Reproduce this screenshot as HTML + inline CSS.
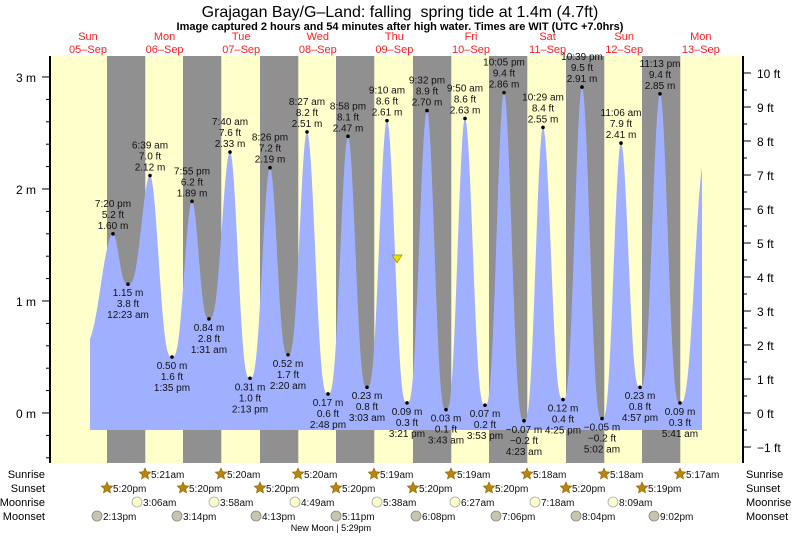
<!DOCTYPE html>
<html><head><meta charset="utf-8"><style>
html,body{margin:0;padding:0;background:#fff}
svg{display:block;font-family:"Liberation Sans",sans-serif}
</style></head><body>
<svg id="s" width="793" height="538" viewBox="0 0 793 538" xmlns="http://www.w3.org/2000/svg">
<rect x="50" y="56" width="693" height="407" fill="#ffffcc"/>
<g id="bands" fill="#909090"></g>
<path id="tide" fill="#a0b0ff" d=""/>
<line x1="50" y1="56" x2="50" y2="463" stroke="#000" stroke-width="2"/>
<line x1="743" y1="56" x2="743" y2="463" stroke="#000" stroke-width="2"/>
<g id="ticks" stroke="#000" stroke-width="1"></g>
<g id="txt" font-size="10" fill="#111" text-anchor="middle"></g>
<text x="400" y="17" font-size="16" text-anchor="middle" fill="#000">Grajagan Bay/G–Land: falling&#160; spring tide at 1.4m (4.7ft)</text>
<text x="400" y="30" font-size="11" font-weight="bold" text-anchor="middle" fill="#000">Image captured 2 hours and 54 minutes after high water. Times are WIT (UTC +7.0hrs)</text>
<polygon points="392,255 402,255 397,263" fill="#eedd00" stroke="#998800" stroke-width="0.7"/>
<text x="331" y="531" font-size="9" text-anchor="middle" fill="#000">New Moon | 5:29pm</text>
</svg>
<script>
var NS="http://www.w3.org/2000/svg";
function el(p,t,a,txt){var e=document.createElementNS(NS,t);for(var k in a)e.setAttribute(k,a[k]);if(txt!==undefined)e.textContent=txt;p.appendChild(e);return e;}
var s=document.getElementById('s'),bands=document.getElementById('bands'),ticks=document.getElementById('ticks'),T=document.getElementById('txt');
var nb=[107,183,260,336,413,489,566,642];
nb.forEach(function(x){el(bands,'rect',{x:x,y:56,width:38.3,height:407});});
function Y(m){return 413-m*112;}
var E=[[113,1.60,'5.2','7:20 pm',1],[128,1.15,'3.8','12:23 am',0],[150,2.12,'7.0','6:39 am',1],[172,0.50,'1.6','1:35 pm',0],
[192,1.89,'6.2','7:55 pm',1],[209,0.84,'2.8','1:31 am',0],[230,2.33,'7.6','7:40 am',1],[250,0.31,'1.0','2:13 pm',0],
[270,2.19,'7.2','8:26 pm',1],[288,0.52,'1.7','2:20 am',0],[307,2.51,'8.2','8:27 am',1],[328,0.17,'0.6','2:48 pm',0],
[348,2.47,'8.1','8:58 pm',1],[367,0.23,'0.8','3:03 am',0],[387,2.61,'8.6','9:10 am',1],[407,0.09,'0.3','3:21 pm',0],
[427,2.70,'8.9','9:32 pm',1],[446,0.03,'0.1','3:43 am',0],[465,2.63,'8.6','9:50 am',1],[485,0.07,'0.2','3:53 pm',0],
[504,2.86,'9.4','10:05 pm',1],[524,-0.07,'−0.2','4:23 am',0],[543,2.55,'8.4','10:29 am',1],[563,0.12,'0.4','4:25 pm',0],
[582,2.91,'9.5','10:39 pm',1],[602,-0.05,'−0.2','5:02 am',0],[621,2.41,'7.9','11:06 am',1],[640,0.23,'0.8','4:57 pm',0],
[660,2.85,'9.4','11:13 pm',1],[680,0.09,'0.3','5:41 am',0]];
var knots=[[82,0.6]].concat(E.map(function(e){return[e[0],e[1]];})).concat([[704,2.25]]);
var d='M90,430 ';
for(var x=90;x<=702;x+=0.5){
 var i=0;while(i<knots.length-2&&knots[i+1][0]<x)i++;
 var a=knots[i],b=knots[i+1];var t=(x-a[0])/(b[0]-a[0]);
 var sv=(1-Math.cos(Math.PI*t))/2;var m;
 if(b[1]>a[1]){m=a[1]+(b[1]-a[1])*Math.pow(sv,1.5);}
 else{m=b[1]+(a[1]-b[1])*Math.pow(1-sv,1.5);}
 d+='L'+x+','+Y(m).toFixed(1)+' ';
}
d+='L702,430 Z';
document.getElementById('tide').setAttribute('d',d);
E.forEach(function(e){
 var x=e[0],y=Y(e[1]);
 el(T,'circle',{cx:x,cy:y,r:1.8,fill:'#000'});
 var m=e[1].toFixed(2).replace('-','−')+' m',f=e[2]+' ft';
 if(e[4]){el(T,'text',{x:x,y:y-5},m);el(T,'text',{x:x,y:y-16},f);el(T,'text',{x:x,y:y-27},e[3]);}
 else{el(T,'text',{x:x,y:y+12},m);el(T,'text',{x:x,y:y+23},f);el(T,'text',{x:x,y:y+34},e[3]);}
});
for(var v=-0.4;v<=3.2;v+=0.2){var yy=Y(v);if(yy<57||yy>462)continue;var maj=Math.abs(v-Math.round(v))<0.01;
 el(ticks,'line',{x1:maj?42:46,y1:yy,x2:50,y2:yy});
 if(maj)el(T,'text',{x:36,y:yy+5,'font-size':12,'text-anchor':'end',fill:'#000'},Math.round(v)+' m');}
for(var f=-1.5;f<=10.5;f+=0.5){var yy=413-f*34;if(yy<57||yy>462)continue;var maj=Math.abs(f-Math.round(f))<0.01;
 el(ticks,'line',{x1:743,y1:yy,x2:maj?751:747,y2:yy});
 if(maj)el(T,'text',{x:757,y:yy+5,'font-size':12,'text-anchor':'start',fill:'#000'},(Math.round(f)<0?'−'+(-Math.round(f)):Math.round(f))+' ft');}
var days=[['Sun','05–Sep'],['Mon','06–Sep'],['Tue','07–Sep'],['Wed','08–Sep'],['Thu','09–Sep'],['Fri','10–Sep'],['Sat','11–Sep'],['Sun','12–Sep'],['Mon','13–Sep']];
days.forEach(function(d,i){var x=88+i*76.6;el(T,'text',{x:x,y:40,'font-size':11,fill:'#ff2020'},d[0]);el(T,'text',{x:x,y:53,'font-size':11,fill:'#ff2020'},d[1]);});
var rows=['Sunrise','Sunset','Moonrise','Moonset'],ry=[478,492,506,520];
rows.forEach(function(r,i){el(T,'text',{x:45,y:ry[i],'font-size':11,'text-anchor':'end',fill:'#000'},r);el(T,'text',{x:746,y:ry[i],'font-size':11,'text-anchor':'start',fill:'#000'},r);});
function star(x,y){var p='';for(var k=0;k<10;k++){var r=k%2?2.8:6,a=-Math.PI/2+k*Math.PI/5;p+=(x+r*Math.cos(a)).toFixed(1)+','+(y+r*Math.sin(a)).toFixed(1)+' ';}el(T,'polygon',{points:p,fill:'#b8860b',stroke:'#8a6000','stroke-width':0.6});}
var sr=['5:21am','5:20am','5:20am','5:19am','5:19am','5:18am','5:18am','5:17am'];
nb.forEach(function(x,i){star(x+38,474);el(T,'text',{x:x+44,y:478,'text-anchor':'start'},sr[i]);});
var ss=['5:20pm','5:20pm','5:20pm','5:20pm','5:20pm','5:20pm','5:20pm','5:19pm'];
nb.forEach(function(x,i){star(x,488);el(T,'text',{x:x+6,y:492,'text-anchor':'start'},ss[i]);});
var mr=[[137,'3:06am'],[214,'3:58am'],[295,'4:49am'],[377,'5:38am'],[455,'6:27am'],[535,'7:18am'],[613,'8:09am']];
mr.forEach(function(m){el(T,'circle',{cx:m[0],cy:502,r:5,fill:'#ffffcc',stroke:'#aaa','stroke-width':0.8});el(T,'text',{x:m[0]+6,y:506,'text-anchor':'start'},m[1]);});
var ms=[[97,'2:13pm'],[177,'3:14pm'],[256,'4:13pm'],[336,'5:11pm'],[416,'6:08pm'],[496,'7:06pm'],[576,'8:04pm'],[654,'9:02pm']];
ms.forEach(function(m){el(T,'circle',{cx:m[0],cy:516,r:5,fill:'#c8c4b0',stroke:'#888','stroke-width':0.8});el(T,'text',{x:m[0]+6,y:520,'text-anchor':'start'},m[1]);});
</script>
</body></html>
